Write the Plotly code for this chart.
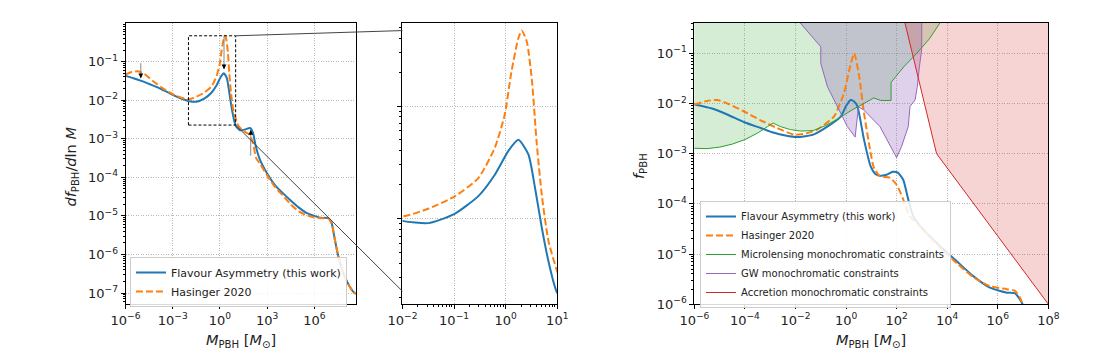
import plotly.graph_objects as go

# ---------------- data: log10 values ----------------
# Left / zoom panel : d f_PBH / d ln M
L_BLUE_LOGM = [-6.0, -5.5, -5.0, -4.5, -4.0, -3.5, -3.0, -2.5, -2.0, -1.5, -1.0, -0.53, -0.21, 0.05, 0.245,
               0.44, 0.57, 0.70, 0.83, 1.0, 1.28, 1.6, 1.91, 2.1, 2.25, 2.55, 3.0, 3.5, 4.0, 4.5, 5.0, 5.5,
               6.0, 6.4, 6.9, 7.1, 7.3, 7.5, 7.85, 8.2, 8.48, 8.65]
L_BLUE_LOGF = [-1.37, -1.43, -1.50, -1.58, -1.66, -1.76, -1.86, -1.95, -2.02, -2.04, -1.96, -1.80, -1.61, -1.40, -1.30,
               -1.43, -1.73, -2.08, -2.38, -2.66, -2.78, -2.76, -2.72, -2.84, -3.14, -3.55, -3.90, -4.20, -4.41, -4.60,
               -4.78, -4.92, -5.00, -5.05, -5.06, -5.19, -5.60, -6.00, -6.49, -6.80, -6.97, -7.02]
L_ORNG_LOGM = [-6.0, -5.6, -5.2, -4.8, -4.2, -3.6, -3.0, -2.5, -2.0, -1.49, -0.98, -0.53, -0.21, -0.02, 0.11, 0.245,
               0.31, 0.41, 0.51, 0.60, 0.70, 0.83, 1.0, 1.2, 1.5, 1.9, 2.1, 2.3, 2.55, 3.0, 3.5, 4.0, 4.5, 5.0, 5.5,
               6.0, 6.4, 6.9, 7.1, 7.3, 7.5, 7.85, 8.2, 8.48, 8.65]
L_ORNG_LOGF = [-1.33, -1.27, -1.25, -1.32, -1.52, -1.70, -1.84, -1.93, -1.98, -1.91, -1.80, -1.64, -1.37, -1.08, -0.70,
               -0.40, -0.33, -0.43, -0.78, -1.32, -1.79, -2.20, -2.47, -2.68, -2.80, -2.90, -3.10, -3.50, -3.65, -3.95,
               -4.25, -4.47, -4.70, -4.88, -4.98, -5.04, -5.06, -5.07, -5.19, -5.60, -6.00, -6.49, -6.80, -6.97, -7.02]

# Zoom box (log10) and arrows on the left panel (x, tail y, tip y)
BOX_LOGM = [-2.0, 1.0]
BOX_LOGF = [-2.645, -0.33]
ARROWS = [(-5.03, -1.04, -1.43), (0.26, -0.34, -1.20), (1.96, -3.44, -2.77)]

# Right panel : f_PBH
R_BLUE_LOGM = [-6.0, -5.3, -4.7, -4.0, -3.37, -2.88, -2.4, -1.93, -1.3, -0.74, -0.21, 0.0, 0.18, 0.32, 0.45, 0.71,
               0.97, 1.15, 1.34, 1.6, 1.85, 2.05, 2.26, 2.46, 2.66, 3.05, 3.71, 4.37, 5.03, 5.69, 6.35, 6.67, 6.87, 7.0]
R_BLUE_LOGF = [-2.02, -2.10, -2.22, -2.38, -2.49, -2.58, -2.64, -2.67, -2.62, -2.46, -2.26, -2.05, -1.93, -1.96,
               -2.06, -2.72, -3.25, -3.40, -3.44, -3.42, -3.36, -3.38, -3.52, -3.91, -4.25, -4.51, -4.84, -5.14,
               -5.44, -5.67, -5.77, -5.78, -5.90, -6.02]
R_ORNG_LOGM = [-6.0, -5.5, -5.09, -4.6, -4.03, -3.4, -2.72, -2.06, -1.6, -1.14, -0.48, -0.08, 0.12, 0.32, 0.51, 0.71,
               0.97, 1.1, 1.34, 1.73, 2.0, 2.26, 2.52, 2.79, 3.2, 3.71, 4.37, 5.03, 5.69, 6.35, 6.67, 6.87, 7.0]
R_ORNG_LOGF = [-2.02, -1.95, -1.93, -2.02, -2.16, -2.33, -2.49, -2.62, -2.60, -2.52, -2.26, -1.79, -1.35, -1.00,
               -1.43, -2.19, -2.98, -3.28, -3.45, -3.48, -3.62, -3.91, -4.25, -4.38, -4.60, -4.87, -5.18, -5.46,
               -5.64, -5.70, -5.73, -5.86, -6.02]

# Monochromatic constraints (boundary lines, log10)
MICRO_LOGM = [-6.2, -6.0, -5.5, -5.0, -4.5, -4.0, -3.5, -3.1, -2.89, -2.6, -2.2, -1.8, -1.3, -0.8, -0.3, 0.2, 0.6,
              1.1, 1.37, 1.78, 1.78, 2.3, 2.8, 3.3, 3.72, 4.3]
MICRO_LOGF = [-2.89, -2.89, -2.90, -2.87, -2.81, -2.72, -2.59, -2.46, -2.39, -2.46, -2.52, -2.55, -2.54, -2.44, -2.30,
              -2.14, -2.03, -1.89, -1.94, -1.94, -1.58, -1.26, -1.00, -0.71, -0.39, 0.05]
GW_LOGM = [-2.1, -1.82, -1.0, -1.0, -0.74, -0.35, -0.08, 0.05, 0.36, 0.49, 0.68, 1.34, 2.0, 2.2, 2.46, 2.53, 2.73,
           2.82, 2.9, 2.99, 3.0]
GW_LOGF = [-0.05, -0.39, -0.87, -1.2, -1.66, -2.06, -2.32, -2.46, -2.67, -2.07, -2.12, -2.46, -3.08, -2.85, -2.46,
           -2.06, -1.93, -1.66, -1.27, -0.93, 0.05]
ACCR_LOGM = [2.14, 3.58, 8.0, 8.4]
ACCR_LOGF = [0.0, -3.0, -6.0, -6.27]

# tick labels
L_XTICKS = [-6, -3, 0, 3, 6]
M_XTICKS = [-2, -1, 0, 1]
R_XTICKS = [-6, -4, -2, 0, 2, 4, 6, 8]
L_YTICKS = [-7, -6, -5, -4, -3, -2, -1]
M_YTICKS = [-2, -1]
R_YTICKS = [-6, -5, -4, -3, -2, -1]

# ---------------- styling / layout ----------------
BLUE, ORANGE, GREEN, PURPLE, RED = "#1f77b4", "#ff7f0e", "#2ca02c", "#9467bd", "#d62728"
FONT = "DejaVu Sans"
DOM_Y = [0.155, 0.937]
DOM_L = [0.1132, 0.3210]
DOM_M = [0.3629, 0.5025]
DOM_R = [0.6261, 0.9453]
RX_L, RY_L = [-6, 8.65], [-7.29, 0.01]
RX_M, RY_M = [-2, 1], [-2.76, -0.26]
RX_R, RY_R = [-6, 8], [-6, -0.39]


def p10(a):
    return [10.0 ** v for v in a]


def tlabel(e):
    return "10<sup>%s</sup>" % (str(e).replace("-", "\u2212"))


def minor_vals(lo, hi):
    out = []
    for d in range(lo, hi):
        for m in range(2, 10):
            out.append(m * 10.0 ** d)
    return out


fig = go.Figure()

# left panel curves
fig.add_trace(go.Scatter(x=p10(L_BLUE_LOGM), y=p10(L_BLUE_LOGF), mode="lines", name="Flavour Asymmetry (this work)",
                         line=dict(color=BLUE, width=2, shape="spline", smoothing=0.6), xaxis="x", yaxis="y",
                         legend="legend"))
fig.add_trace(go.Scatter(x=p10(L_ORNG_LOGM), y=p10(L_ORNG_LOGF), mode="lines", name="Hasinger 2020",
                         line=dict(color=ORANGE, width=2, dash="7px,3px", shape="spline", smoothing=0.6),
                         xaxis="x", yaxis="y", legend="legend"))
# zoom box
bx = [BOX_LOGM[0], BOX_LOGM[1], BOX_LOGM[1], BOX_LOGM[0], BOX_LOGM[0]]
by = [BOX_LOGF[0], BOX_LOGF[0], BOX_LOGF[1], BOX_LOGF[1], BOX_LOGF[0]]
fig.add_trace(go.Scatter(x=p10(bx), y=p10(by), mode="lines", line=dict(color="black", width=1, dash="3px,2px"),
                         xaxis="x", yaxis="y", showlegend=False, hoverinfo="skip"))
# arrow shafts
for ax_, y0, y1 in ARROWS:
    fig.add_trace(go.Scatter(x=p10([ax_, ax_]), y=p10([y0, y1]), mode="lines", line=dict(color="#888888", width=1),
                             xaxis="x", yaxis="y", showlegend=False, hoverinfo="skip"))

# middle (zoom) panel
fig.add_trace(go.Scatter(x=p10(L_BLUE_LOGM), y=p10(L_BLUE_LOGF), mode="lines", showlegend=False,
                         line=dict(color=BLUE, width=2, shape="spline", smoothing=0.6), xaxis="x2", yaxis="y2"))
fig.add_trace(go.Scatter(x=p10(L_ORNG_LOGM), y=p10(L_ORNG_LOGF), mode="lines", showlegend=False,
                         line=dict(color=ORANGE, width=2, dash="7px,3px", shape="spline", smoothing=0.6),
                         xaxis="x2", yaxis="y2"))

# right panel: fills
TOP = 0.6
fig.add_trace(go.Scatter(x=p10(MICRO_LOGM + [MICRO_LOGM[-1], MICRO_LOGM[0]]),
                         y=p10(MICRO_LOGF + [TOP, TOP]), fill="toself", fillcolor="rgba(44,160,44,0.2)",
                         mode="none", showlegend=False, hoverinfo="skip", xaxis="x3", yaxis="y3"))
fig.add_trace(go.Scatter(x=p10(GW_LOGM + [GW_LOGM[-1], GW_LOGM[0]]),
                         y=p10(GW_LOGF + [TOP, TOP]), fill="toself", fillcolor="rgba(148,103,189,0.3)",
                         mode="none", showlegend=False, hoverinfo="skip", xaxis="x3", yaxis="y3"))
fig.add_trace(go.Scatter(x=p10(ACCR_LOGM + [ACCR_LOGM[-1], ACCR_LOGM[0]]),
                         y=p10(ACCR_LOGF + [TOP, TOP]), fill="toself", fillcolor="rgba(214,39,40,0.2)",
                         mode="none", showlegend=False, hoverinfo="skip", xaxis="x3", yaxis="y3"))
# right panel: curves and constraint lines
fig.add_trace(go.Scatter(x=p10(R_BLUE_LOGM), y=p10(R_BLUE_LOGF), mode="lines", name="Flavour Asymmetry (this work)",
                         line=dict(color=BLUE, width=2, shape="spline", smoothing=0.6), xaxis="x3", yaxis="y3",
                         legend="legend2", legendrank=1))
fig.add_trace(go.Scatter(x=p10(R_ORNG_LOGM), y=p10(R_ORNG_LOGF), mode="lines", name="Hasinger 2020",
                         line=dict(color=ORANGE, width=2, dash="7px,3px", shape="spline", smoothing=0.6),
                         xaxis="x3", yaxis="y3", legend="legend2", legendrank=2))
fig.add_trace(go.Scatter(x=p10(MICRO_LOGM), y=p10(MICRO_LOGF), mode="lines",
                         name="Microlensing monochromatic constraints", line=dict(color=GREEN, width=1),
                         xaxis="x3", yaxis="y3", legend="legend2", legendrank=3))
fig.add_trace(go.Scatter(x=p10(GW_LOGM), y=p10(GW_LOGF), mode="lines", name="GW monochromatic constraints",
                         line=dict(color=PURPLE, width=1), xaxis="x3", yaxis="y3", legend="legend2", legendrank=4))
fig.add_trace(go.Scatter(x=p10(ACCR_LOGM), y=p10(ACCR_LOGF), mode="lines", name="Accretion monochromatic constraints",
                         line=dict(color=RED, width=1), xaxis="x3", yaxis="y3", legend="legend2", legendrank=5))

tickfont = dict(family=FONT, size=13, color="#222222")


def axis(domain, rng, tickexps, anchor, minor=None, labels=True):
    d = dict(type="log", domain=domain, range=rng, anchor=anchor, automargin=False, showline=True,
             linecolor="black", linewidth=1, mirror=True, ticks="outside", ticklen=4, tickwidth=1,
             tickcolor="black", showgrid=True, gridcolor="#b8b8b8", griddash="1px,1.5px", gridwidth=0.8,
             zeroline=False, tickfont=tickfont, tickmode="array", tickvals=p10(tickexps),
             ticktext=[tlabel(e) for e in tickexps], showticklabels=labels)
    if minor is not None:
        d["minor"] = dict(tickmode="array", tickvals=minor, ticks="outside", ticklen=2, tickwidth=0.8,
                          tickcolor="black", showgrid=False)
    return d


fig.update_layout(
    template="none",
    width=1109, height=360, margin=dict(l=0, r=0, t=0, b=0, autoexpand=False),
    paper_bgcolor="white", plot_bgcolor="white",
    font=dict(family=FONT, size=12, color="#222222"),
    xaxis=axis(DOM_L, RX_L, L_XTICKS, "y"),
    yaxis=axis(DOM_Y, RY_L, L_YTICKS, "x", minor=minor_vals(-8, 1)),
    xaxis2=axis(DOM_M, RX_M, M_XTICKS, "y2", minor=minor_vals(-2, 1)),
    yaxis2=axis(DOM_Y, RY_M, M_YTICKS, "x2", minor=minor_vals(-3, 0), labels=False),
    xaxis3=axis(DOM_R, RX_R, R_XTICKS, "y3"),
    yaxis3=axis(DOM_Y, RY_R, R_YTICKS, "x3", minor=minor_vals(-7, 0)),
    legend=dict(x=0.1172, y=1 - 257 / 360, xanchor="left", yanchor="top",
                font=dict(family=FONT, size=11, color="#222"),
                bgcolor="rgba(255,255,255,0.85)", bordercolor="#cccccc", borderwidth=1, itemwidth=30,
                tracegroupgap=0),
    legend2=dict(x=0.6312, y=1 - 201 / 360, xanchor="left", yanchor="top",
                 font=dict(family=FONT, size=10, color="#222"),
                 bgcolor="rgba(255,255,255,0.85)", bordercolor="#cccccc", borderwidth=1, itemwidth=30,
                 tracegroupgap=0, traceorder="normal"),
    showlegend=True,
)


# connector lines from zoom box to the zoom panel (paper coordinates derived from the axes)
def to_paper(v, dom, rng):
    return dom[0] + (v - rng[0]) / (rng[1] - rng[0]) * (dom[1] - dom[0])


for yv in BOX_LOGF:
    fig.add_shape(type="line", xref="paper", yref="paper",
                  x0=to_paper(BOX_LOGM[1], DOM_L, RX_L), y0=to_paper(yv, DOM_Y, RY_L),
                  x1=to_paper(RX_M[0], DOM_M, RX_M), y1=to_paper(yv, DOM_Y, RY_M),
                  line=dict(color="#444444", width=1))

# arrow heads (annotation coordinates on log axes are log10 values)
for ax_, y0, y1 in ARROWS:
    fig.add_annotation(x=ax_, y=y1, xref="x", yref="y", text="", showarrow=True, arrowhead=2, arrowsize=0.8,
                       arrowwidth=1.2, arrowcolor="black", ax=0, ay=(-6 if y0 > y1 else 6))

# axis titles
title_font = dict(family=FONT, size=14.5, color="#222222")
XT = "<i>M</i><sub>PBH</sub> [<i>M</i><sub>\u2299</sub>]"
for tx, ty, ang, txt in [(71.5, 167, -90, "<i>df</i><sub>PBH</sub>/<i>d</i>ln <i>M</i>"),
                         (240.8, 341, 0, XT), (871.3, 341, 0, XT),
                         (640, 166, -90, "<i>f</i><sub>PBH</sub>")]:
    fig.add_annotation(x=tx / 1109, y=1 - ty / 360, xref="paper", yref="paper", xanchor="center",
                       yanchor="middle", textangle=ang, showarrow=False, text=txt, font=title_font)

fig.write_html("out.html")
